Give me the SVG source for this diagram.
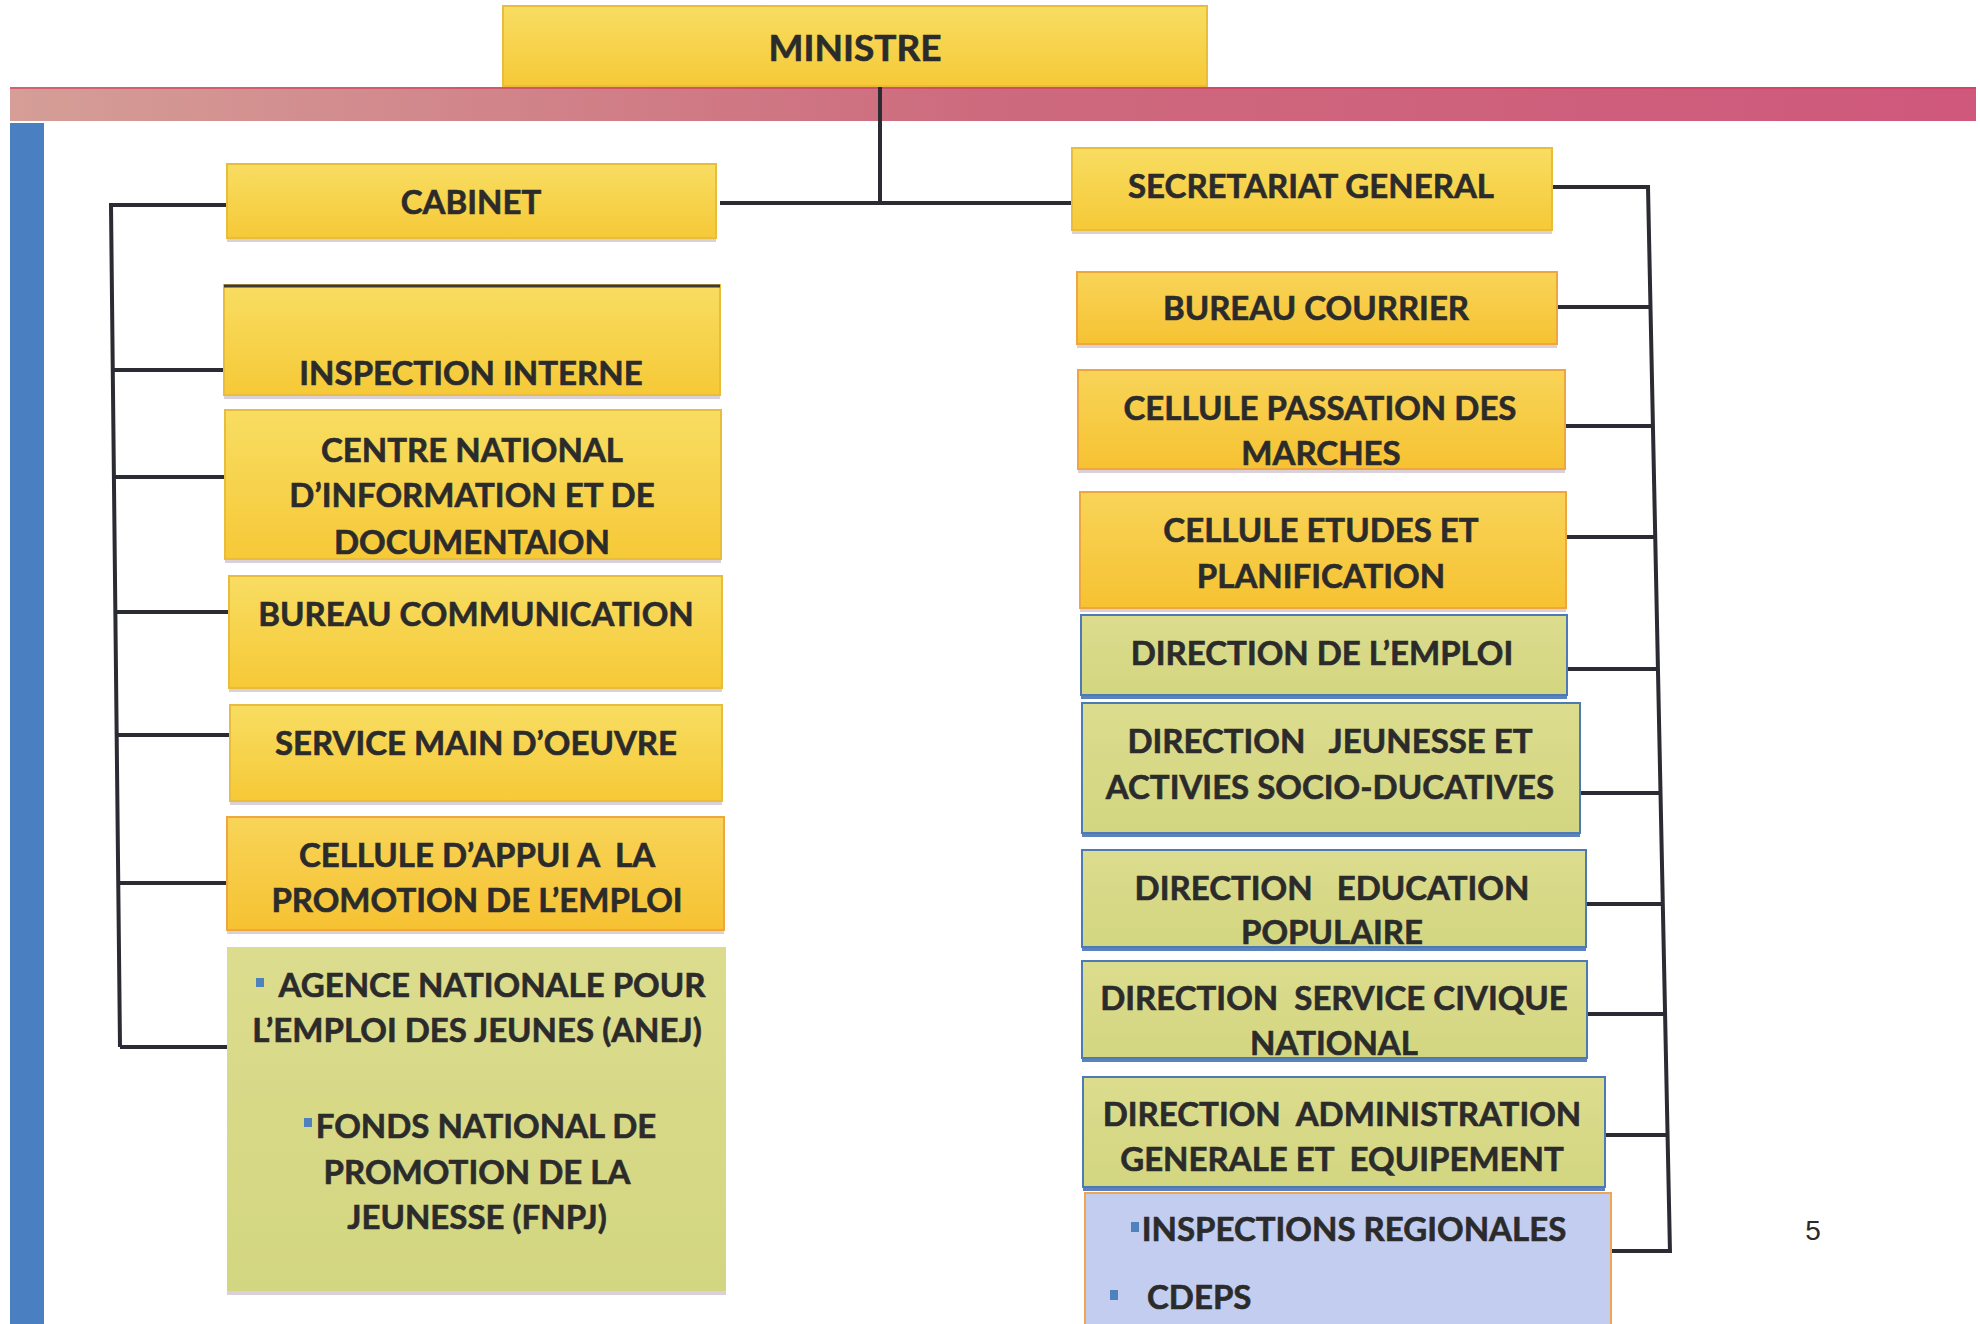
<svg xmlns="http://www.w3.org/2000/svg" width="1980" height="1324" viewBox="0 0 1980 1324">
<defs>
<linearGradient id="gy" x1="0" y1="0" x2="0" y2="1">
<stop offset="0" stop-color="#f8dd62"/>
<stop offset="1" stop-color="#f6c937"/>
</linearGradient>
<linearGradient id="go" x1="0" y1="0" x2="0" y2="1">
<stop offset="0" stop-color="#f8d458"/>
<stop offset="1" stop-color="#f6c232"/>
</linearGradient>
<linearGradient id="gg" x1="0" y1="0" x2="0" y2="1">
<stop offset="0" stop-color="#dcdc8e"/>
<stop offset="1" stop-color="#d3d680"/>
</linearGradient>
<linearGradient id="band" x1="0" y1="0" x2="1" y2="0">
<stop offset="0" stop-color="#d59e97"/>
<stop offset="0.5" stop-color="#cd6a7d"/>
<stop offset="1" stop-color="#cf587c"/>
</linearGradient>
<style>
.y{fill:url(#gy);stroke:#e8bd3c;stroke-width:2}
.o{fill:url(#go);stroke:#f0a640;stroke-width:2}
.g{fill:url(#gg);stroke:#4d79b5;stroke-width:2}
.b{fill:#c3cdef;stroke:#f0a650;stroke-width:2}
.sh{fill:#c9bcc8;opacity:0.7}
.shb{fill:#5a82bd}
text{font-family:Lato,"Open Sans","Liberation Sans",sans-serif;font-weight:bold;font-size:33px;fill:#2b2b2b;stroke:#2b2b2b;stroke-width:0.6;text-anchor:middle}
.ln{stroke:#2b2b33;stroke-width:4;fill:none}
.bul{fill:#4f81bd}
</style>
</defs>
<rect width="1980" height="1324" fill="#ffffff"/>
<rect x="10" y="87" width="1966" height="34" fill="url(#band)"/>
<rect x="10" y="87" width="1966" height="2" fill="#cf3a5a" opacity="0.6"/>
<rect x="10" y="123" width="34" height="1201" fill="#4a7fc1"/>

<g id="connectors">
<path class="ln" d="M880 87 V203 M720 203 H1072"/>
<path class="ln" d="M227 205 H111 L120 1047 M113 370 H224 M114 477 H225 M115 612 H229 M116 735 H230 M118 883 H227 M120 1047 H227"/>
<path class="ln" d="M1552 187 H1648 L1670 1253 M1557 307 H1650 M1565 426 H1653 M1566 537 H1655 M1567 669 H1657 M1580 793 H1660 M1586 904 H1662 M1587 1014 H1664 M1605 1135 H1667 M1611 1251 H1669"/>
</g>

<g id="ministre">
<rect class="y" x="503" y="6" width="704" height="80" stroke="none"/>
<text x="855" y="61" style="font-size:37px">MINISTRE</text>
</g>

<g id="cabinet">
<rect class="sh" x="227" y="237" width="489" height="5"/>
<rect class="y" x="227" y="164" width="489" height="74" stroke="none"/>
<text x="471" y="214">CABINET</text>
</g>

<g id="secretariat-general">
<rect class="sh" x="1072" y="229" width="480" height="5"/>
<rect class="y" x="1072" y="148" width="480" height="82" stroke="none"/>
<text x="1311" y="198">SECRETARIAT GENERAL</text>
</g>

<g id="inspection-interne">
<rect class="sh" x="224" y="394" width="496" height="5"/>
<rect class="y" x="224" y="285" width="496" height="110"/>
<line x1="224" y1="286" x2="720" y2="286" stroke="#3a3a3a" stroke-width="3"/>
<text x="471" y="385">INSPECTION INTERNE</text>
</g>

<g id="centre-national">
<rect class="sh" x="225" y="558" width="496" height="5"/>
<rect class="y" x="225" y="410" width="496" height="149"/>
<text x="472" y="462">CENTRE NATIONAL</text>
<text x="472" y="507">D’INFORMATION ET DE</text>
<text x="472" y="554">DOCUMENTAION</text>
</g>

<g id="bureau-communication">
<rect class="sh" x="229" y="687" width="493" height="5"/>
<rect class="y" x="229" y="576" width="493" height="112"/>
<text x="476" y="626">BUREAU COMMUNICATION</text>
</g>

<g id="service-main-doeuvre">
<rect class="sh" x="230" y="800" width="492" height="5"/>
<rect class="y" x="230" y="705" width="492" height="96"/>
<text x="476" y="755">SERVICE MAIN D’OEUVRE</text>
</g>

<g id="cellule-appui">
<rect class="sh" x="227" y="929" width="497" height="5"/>
<rect class="o" x="227" y="817" width="497" height="113"/>
<text x="477" y="867" xml:space="preserve">CELLULE D’APPUI A  LA</text>
<text x="477" y="912">PROMOTION DE L’EMPLOI</text>
</g>

<g id="anej-fnpj">
<rect class="sh" x="227" y="1290" width="499" height="5"/>
<rect x="227" y="947" width="499" height="344" fill="url(#gg)"/>
<rect class="bul" x="256" y="978" width="8" height="9"/>
<text x="492" y="997">AGENCE NATIONALE POUR</text>
<text x="477" y="1042">L’EMPLOI DES JEUNES (ANEJ)</text>
<rect class="bul" x="304" y="1118" width="8" height="9"/>
<text x="486" y="1138">FONDS NATIONAL DE</text>
<text x="477" y="1184">PROMOTION DE LA</text>
<text x="477" y="1229">JEUNESSE (FNPJ)</text>
</g>

<g id="bureau-courrier">
<rect class="sh" x="1077" y="343" width="480" height="5"/>
<rect class="o" x="1077" y="272" width="480" height="72"/>
<text x="1316" y="320">BUREAU COURRIER</text>
</g>

<g id="cellule-passation">
<rect class="sh" x="1078" y="468" width="487" height="5"/>
<rect class="o" x="1078" y="370" width="487" height="99"/>
<text x="1320" y="420">CELLULE PASSATION DES</text>
<text x="1321" y="465">MARCHES</text>
</g>

<g id="cellule-etudes">
<rect class="sh" x="1080" y="607" width="486" height="5"/>
<rect class="o" x="1080" y="492" width="486" height="116"/>
<text x="1321" y="542">CELLULE ETUDES ET</text>
<text x="1321" y="588">PLANIFICATION</text>
</g>

<g id="direction-emploi">
<rect class="shb" x="1081" y="694" width="486" height="5"/>
<rect class="g" x="1081" y="615" width="486" height="80"/>
<text x="1322" y="665">DIRECTION DE L’EMPLOI</text>
</g>

<g id="direction-jeunesse">
<rect class="shb" x="1082" y="832" width="498" height="5"/>
<rect class="g" x="1082" y="703" width="498" height="130"/>
<text x="1330" y="753" xml:space="preserve">DIRECTION   JEUNESSE ET</text>
<text x="1330" y="799">ACTIVIES SOCIO-DUCATIVES</text>
</g>

<g id="direction-education">
<rect class="shb" x="1082" y="946" width="504" height="5"/>
<rect class="g" x="1082" y="850" width="504" height="97"/>
<text x="1332" y="900" xml:space="preserve">DIRECTION   EDUCATION</text>
<text x="1332" y="944">POPULAIRE</text>
</g>

<g id="direction-service-civique">
<rect class="shb" x="1082" y="1057" width="505" height="5"/>
<rect class="g" x="1082" y="961" width="505" height="97"/>
<text x="1334" y="1010" xml:space="preserve">DIRECTION  SERVICE CIVIQUE</text>
<text x="1334" y="1055">NATIONAL</text>
</g>

<g id="direction-administration">
<rect class="shb" x="1083" y="1186" width="522" height="5"/>
<rect class="g" x="1083" y="1077" width="522" height="110"/>
<text x="1342" y="1126" xml:space="preserve">DIRECTION  ADMINISTRATION</text>
<text x="1342" y="1171" xml:space="preserve">GENERALE ET  EQUIPEMENT</text>
</g>

<g id="inspections-regionales">
<rect class="b" x="1085" y="1193" width="526" height="140"/>
<rect class="bul" x="1131" y="1222" width="8" height="10"/>
<text x="1354" y="1241">INSPECTIONS REGIONALES</text>
<rect class="bul" x="1110" y="1290" width="8" height="10"/>
<text x="1147" y="1309" style="text-anchor:start">CDEPS</text>
</g>

<text x="1813" y="1240" style="font-family:'Liberation Sans',Arial,sans-serif;font-weight:normal;font-size:28px;stroke:none">5</text>
</svg>
